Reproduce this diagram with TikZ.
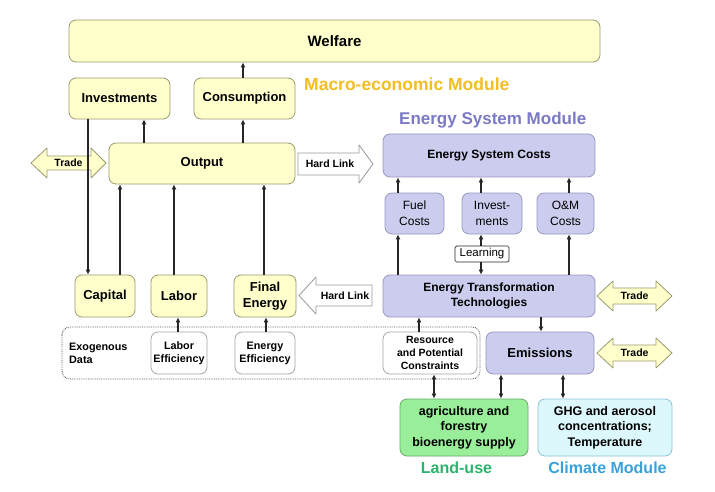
\documentclass[tikz,border=0pt]{standalone}
\usepackage{fontspec}
\setmainfont{Liberation Sans}
\usetikzlibrary{arrows.meta}
\definecolor{ylw}{HTML}{FFFFCC}
\definecolor{ylwb}{HTML}{9A9A70}
\definecolor{lav}{HTML}{CCCCEE}
\definecolor{lavb}{HTML}{9898C0}
\definecolor{grn}{HTML}{99EE99}
\definecolor{grnb}{HTML}{66AA66}
\definecolor{cyn}{HTML}{DDF8FC}
\definecolor{cynb}{HTML}{88C4D8}
\definecolor{orng}{HTML}{F2BE22}
\definecolor{purp}{HTML}{7A7AC8}
\definecolor{grnt}{HTML}{2DB36E}
\definecolor{blut}{HTML}{3AA0DC}
\definecolor{ln}{HTML}{262626}
\tikzset{
  box/.style={rounded corners=7pt, draw, line width=0.8pt, align=center, inner sep=1pt},
  ybox/.style={box, fill=ylw, draw=ylwb, font=\bfseries\fontsize{13}{16}\selectfont},
  lbox/.style={box, fill=lav, draw=lavb},
  wbox/.style={box, fill=white, draw=gray!70},
  arr/.style={draw=ln, line width=1.5pt, -{Latex[length=5pt,width=5pt]}},
  darr/.style={draw=ln, line width=1.5pt, {Latex[length=5pt,width=5pt]}-{Latex[length=5pt,width=5pt]}},
  tradeshape/.style={fill=ylw, draw=ylwb, line width=0.8pt, line join=round},
  linkshape/.style={fill=white, draw=gray!80, line width=0.8pt, line join=round},
  smalllbl/.style={font=\bfseries\fontsize{10.5}{12}\selectfont, inner sep=0pt},
}
\begin{document}
\begin{tikzpicture}[x=1pt,y=-1pt]
\useasboundingbox (0,0) rectangle (715,492);
\fill[white] (0,0) rectangle (715,492);

% ---------- Macro-economic module ----------
\node[ybox, minimum width=531pt, minimum height=42pt, font=\bfseries\fontsize{15}{18}\selectfont] (wel) at (334.5,41) {Welfare};
\node[anchor=west, inner sep=0pt, text=orng, font=\bfseries\fontsize{17.5}{20}\selectfont] (macro) at (304,84) {Macro-economic Module};
\node[ybox, minimum width=101pt, minimum height=41pt] (inv) at (119.5,98.5) {Investments};
\node[ybox, minimum width=101pt, minimum height=41pt] (con) at (244.5,98.5) {Consumption};
\node[ybox, minimum width=186pt, minimum height=41pt] (out) at (202,163.5) {Output};

% Trade (left)
\draw[tradeshape] (31,163) -- (47,148) -- (47,156) -- (91,156) -- (91,148) -- (106,163) -- (91,178) -- (91,170) -- (47,170) -- (47,178) -- cycle;
\node[smalllbl] (tr1) at (68.5,163) {Trade};

% Hard link (upper)
\draw[linkshape] (298,153) -- (359,153) -- (359,145) -- (373,164) -- (359,183) -- (359,175) -- (298,175) -- cycle;
\node[smalllbl] (hl1) at (330,164) {Hard Link};

\node[ybox, minimum width=60pt, minimum height=42pt] (cap) at (105,296) {Capital};
\node[ybox, minimum width=56pt, minimum height=42pt] (lab) at (179,296) {Labor};
\node[ybox, minimum width=62pt, minimum height=42pt] (fe) at (265,296) {Final\\Energy};

% Hard link (lower)
\draw[linkshape] (299,295.5) -- (316,277) -- (316,285) -- (372,285) -- (372,306) -- (316,306) -- (316,314) -- cycle;
\node[smalllbl] (hl2) at (345,295.5) {Hard Link};

% Exogenous data
\draw[densely dotted, draw=ln!80, line width=0.8pt, rounded corners=8pt] (62,327) rectangle (480,379);
\node[anchor=west, align=left, inner sep=0pt, font=\bfseries\fontsize{10.8}{13}\selectfont] (exo) at (69,353.5) {Exogenous\\Data};
\node[wbox, minimum width=56pt, minimum height=42pt, font=\bfseries\fontsize{10.8}{13}\selectfont] (leff) at (179,353) {Labor\\Efficiency};
\node[wbox, minimum width=60pt, minimum height=42pt, font=\bfseries\fontsize{10.8}{13}\selectfont] (eeff) at (265,353) {Energy\\Efficiency};
\node[wbox, minimum width=94pt, minimum height=42pt, font=\bfseries\fontsize{10.5}{13}\selectfont] (res) at (430,353) {Resource\\and Potential\\Constraints};

% ---------- Energy system module ----------
\node[anchor=west, inner sep=0pt, text=purp, font=\bfseries\fontsize{17}{20}\selectfont] (esm) at (399,120) {Energy System Module};
\node[lbox, minimum width=212pt, minimum height=43pt, font=\bfseries\fontsize{12}{15}\selectfont] (esc) at (489,155.5) {Energy System Costs};
\node[lbox, minimum width=59pt, minimum height=41pt, font=\fontsize{12}{16}\selectfont] (fuel) at (414.5,213.5) {Fuel\\Costs};
\node[lbox, minimum width=60pt, minimum height=41pt, font=\fontsize{12}{16}\selectfont] (inv2) at (492,213.5) {Invest-\\ments};
\node[lbox, minimum width=57pt, minimum height=41pt, font=\fontsize{12}{16}\selectfont] (om) at (565.5,213.5) {O\&M\\Costs};
\node[lbox, minimum width=212pt, minimum height=42pt, font=\bfseries\fontsize{12}{15}\selectfont] (ett) at (489,296) {Energy Transformation\\Technologies};
\node[draw=ln, line width=0.7pt, fill=white, rounded corners=1.5pt, minimum width=54pt, minimum height=16pt, inner sep=0pt, font=\fontsize{11.5}{13}\selectfont] (learn) at (482,254) {Learning};
\node[lbox, minimum width=108pt, minimum height=42pt, font=\bfseries\fontsize{13}{16}\selectfont] (emi) at (540,353) {Emissions};

% Trade (right)
\draw[tradeshape] (597,296) -- (613,281) -- (613,288) -- (656,288) -- (656,281) -- (672,296) -- (656,311) -- (656,304) -- (613,304) -- (613,311) -- cycle;
\node[smalllbl] (tr2) at (634.5,296) {Trade};
\draw[tradeshape] (597,353) -- (613,338) -- (613,345) -- (656,345) -- (656,338) -- (672,353) -- (656,368) -- (656,361) -- (613,361) -- (613,368) -- cycle;
\node[smalllbl] (tr3) at (634.5,353) {Trade};

% ---------- Land-use and climate ----------
\node[box, fill=grn, draw=grnb, minimum width=128pt, minimum height=57pt, font=\bfseries\fontsize{12.5}{15.5}\selectfont] (agr) at (464,427.5) {agriculture and\\forestry\\bioenergy supply};
\node[box, fill=cyn, draw=cynb, minimum width=134pt, minimum height=57pt, font=\bfseries\fontsize{12.5}{15.5}\selectfont] (ghg) at (605,427.5) {GHG and aerosol\\concentrations;\\Temperature};
\node[inner sep=0pt, text=grnt, font=\bfseries\fontsize{16}{19}\selectfont] (land) at (456.5,468) {Land-use};
\node[inner sep=0pt, text=blut, font=\bfseries\fontsize{16}{19}\selectfont] (clim) at (607.5,468) {Climate Module};

% ---------- Connectors ----------
\draw[arr] (243,0 |- con.north) -- (243,0 |- wel.south);
\draw[arr] (144,0 |- out.north) -- (144,0 |- inv.south);
\draw[arr] (243,0 |- out.north) -- (243,0 |- con.south);
\draw[arr] (88,0 |- inv.south) -- (88,0 |- cap.north);
\draw[arr] (120,0 |- cap.north) -- (120,0 |- out.south);
\draw[arr] (174,0 |- lab.north) -- (174,0 |- out.south);
\draw[arr] (264,0 |- fe.north) -- (264,0 |- out.south);
\draw[arr] (178,0 |- leff.north) -- (178,0 |- lab.south);
\draw[arr] (266,0 |- eeff.north) -- (266,0 |- fe.south);
\draw[arr] (398,0 |- ett.north) -- (398,0 |- fuel.south);
\draw[arr] (398,0 |- fuel.north) -- (398,0 |- esc.south);
\draw[arr] (481,0 |- inv2.north) -- (481,0 |- esc.south);
\draw[arr] (569,0 |- om.north) -- (569,0 |- esc.south);
\draw[arr] (569,0 |- ett.north) -- (569,0 |- om.south);
\draw[arr] (481,0 |- learn.north) -- (481,0 |- inv2.south);
\draw[arr] (481,0 |- learn.south) -- (481,0 |- ett.north);
\draw[arr] (541,0 |- ett.south) -- (541,0 |- emi.north);
\draw[arr] (419,0 |- res.north) -- (419,0 |- ett.south);
\draw[darr] (434,0 |- res.south) -- (434,0 |- agr.north);
\draw[darr] (501,0 |- emi.south) -- (501,0 |- agr.north);
\draw[darr] (563,0 |- emi.south) -- (563,0 |- ghg.north);
\end{tikzpicture}
\end{document}
